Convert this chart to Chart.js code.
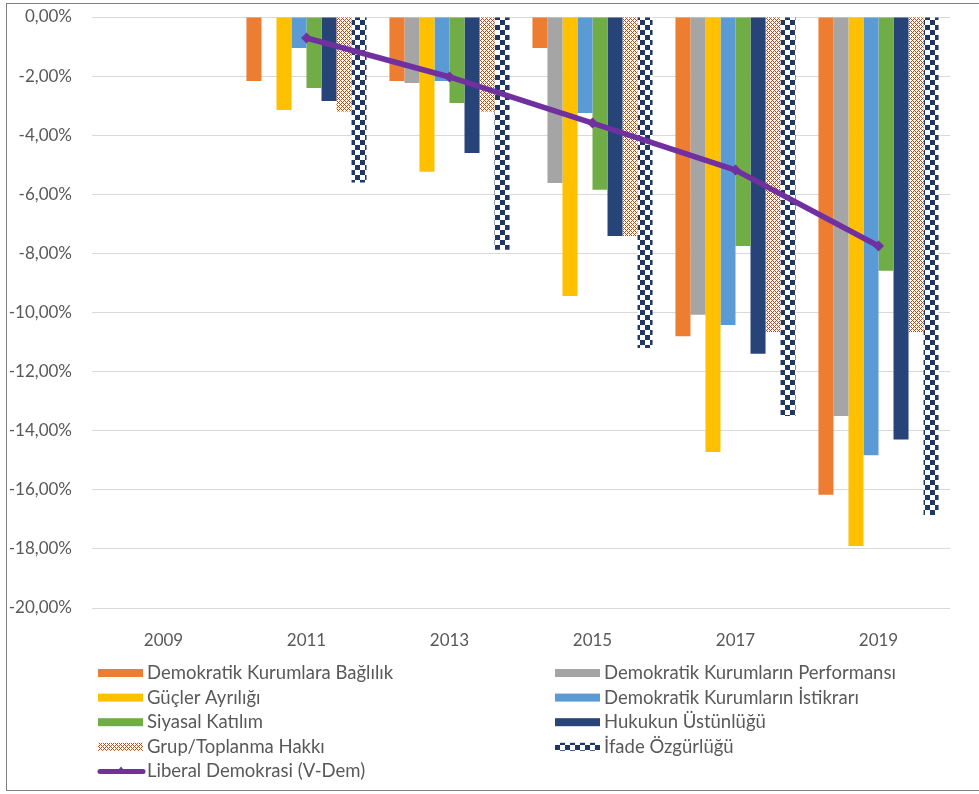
<!DOCTYPE html>
<html>
<head>
<meta charset="utf-8">
<script src="https://cdn.jsdelivr.net/npm/chart.js@4.4.1/dist/chart.umd.min.js"></script>
<style>
  html, body { margin: 0; padding: 0; background: #fff; overflow: hidden; }
  #wrap { position: relative; width: 979px; height: 794px; }
  #frame { position: absolute; left: 6px; top: 3px; width: 1000px; height: 786px; border: 1px solid #7f7f7f; pointer-events: none; }
  canvas { position: absolute; left: 0; top: 0; }
</style>
</head>
<body>
<div id="wrap">
  <canvas id="chart" width="979" height="794"></canvas>
  <div id="frame"></div>
</div>
<script>
// values, in percent
const years = ['2009', '2011', '2013', '2015', '2017', '2019'];
const bagliliK = [0, -2.17, -2.17, -1.05, -10.8, -16.17];
const performans = [0, 0, -2.23, -5.62, -10.08, -13.5];
const gucler = [0, -3.15, -5.24, -9.44, -14.72, -17.9];
const istikrar = [0, -1.05, -2.17, -3.25, -10.42, -14.83];
const siyasal = [0, -2.4, -2.91, -5.85, -7.75, -8.59];
const hukuk = [0, -2.84, -4.6, -7.41, -11.4, -14.3];
const grup = [0, -3.2, -3.2, -7.41, -10.66, -10.66];
const ifade = [0, -5.6, -7.88, -11.2, -13.5, -16.85];
const liberal = [null, -0.71, -2.03, -3.59, -5.18, -7.75];

const seriesNames = [
    'Demokratik Kurumlara Bağlılık',
    'Demokratik Kurumların Performansı',
    'Güçler Ayrılığı',
    'Demokratik Kurumların İstikrarı',
    'Siyasal Katılım',
    'Hukukun Üstünlüğü',
    'Grup/Toplanma Hakkı',
    'İfade Özgürlüğü',
    'Liberal Demokrasi (V-Dem)'
];

const FONT = 'Lato, "Open Sans", sans-serif';
const TEXT_COLOR = '#595959';

// small diamond lattice, like the excel pattern fill
function makeLattice() {
    const c = document.createElement('canvas');
    c.width = 4;
    c.height = 4;
    const g = c.getContext('2d');
    g.fillStyle = '#ffffff';
    g.fillRect(0, 0, 4, 4);
    g.fillStyle = '#a4531f';
    for (let x = 0; x < 4; x++) {
        for (let y = 0; y < 4; y++) {
            if ((x + y) % 4 === 0 || (x - y + 4) % 4 === 0) g.fillRect(x, y, 1, 1);
        }
    }
    return g.createPattern(c, 'repeat');
}
function makeChecker() {
    const c = document.createElement('canvas');
    c.width = 10;
    c.height = 10;
    const g = c.getContext('2d');
    g.fillStyle = '#ffffff';
    g.fillRect(0, 0, 10, 10);
    g.fillStyle = '#203864';
    g.fillRect(0, 0, 5, 5);
    g.fillRect(5, 5, 5, 5);
    return g.createPattern(c, 'repeat');
}

const latticeFill = makeLattice();
const checkerFill = makeChecker();

const barValues = [bagliliK, performans, gucler, istikrar, siyasal, hukuk, grup, ifade];
const barFills = ['#ED7D31', '#A5A5A5', '#FFC000', '#5B9BD5', '#70AD47', '#264478', latticeFill, checkerFill];

const datasets = barValues.map((vals, i) => ({
    type: 'bar',
    label: seriesNames[i],
    data: vals,
    backgroundColor: barFills[i],
    borderWidth: 0,
    barPercentage: 1,
    categoryPercentage: 0.84,
    order: 0
}));
datasets.push({
    type: 'line',
    label: seriesNames[8],
    data: liberal,
    borderColor: '#7030A0',
    backgroundColor: '#7030A0',
    borderWidth: 5.5,
    pointStyle: 'rectRot',
    pointRadius: 5.5,
    pointBorderWidth: 0,
    tension: 0,
    order: -1
});

// two column legend under the plot, like the excel one
const legendPlugin = {
    id: 'twoColLegend',
    afterDraw(chart) {
        const ctx = chart.ctx;
        const cols = [98, 555];
        const rowTop = 673;
        const rowGap = 24.6;
        ctx.save();
        ctx.font = '18.5px ' + FONT;
        ctx.textBaseline = 'middle';
        chart.data.datasets.forEach((ds, i) => {
            const x = cols[i % 2];
            const y = rowTop + Math.floor(i / 2) * rowGap;
            if (ds.type === 'line') {
                ctx.strokeStyle = ds.borderColor;
                ctx.lineWidth = 5;
                ctx.lineCap = 'round';
                ctx.beginPath();
                ctx.moveTo(x + 2, y);
                ctx.lineTo(x + 45, y);
                ctx.stroke();
                ctx.fillStyle = ds.borderColor;
                ctx.beginPath();
                ctx.moveTo(x + 23, y - 5);
                ctx.lineTo(x + 27, y);
                ctx.lineTo(x + 23, y + 2);
                ctx.lineTo(x + 19, y);
                ctx.closePath();
                ctx.fill();
            } else {
                ctx.fillStyle = ds.backgroundColor;
                ctx.fillRect(x, y - 4, 45, 8);
            }
            ctx.fillStyle = TEXT_COLOR;
            ctx.fillText(ds.label, x + 49, y);
        });
        ctx.restore();
    }
};

const chart = new Chart(document.getElementById('chart'), {
    data: { labels: years, datasets: datasets },
    plugins: [legendPlugin],
    options: {
        responsive: false,
        animation: false,
        layout: { padding: { left: 0, right: 29, top: 17, bottom: 146 } },
        plugins: {
            legend: { display: false },
            tooltip: { enabled: false }
        },
        scales: {
            x: {
                grid: { display: false },
                border: { display: false },
                ticks: { color: TEXT_COLOR, font: { family: FONT, size: 17 }, padding: 14 },
                afterFit(scale) { scale.height = 40; }
            },
            y: {
                min: -20,
                max: 0,
                grid: { color: '#D9D9D9', lineWidth: 1, drawTicks: false },
                border: { display: false },
                ticks: {
                    stepSize: 2,
                    padding: 20,
                    color: TEXT_COLOR,
                    font: { family: FONT, size: 17 },
                    callback: (v) => v.toFixed(2).replace('.', ',') + '%'
                },
                afterFit(scale) {
                    scale.width = 92;
                    scale.paddingTop = 0;
                    scale.paddingBottom = 0;
                }
            }
        }
    }
});
</script>
</body>
</html>
